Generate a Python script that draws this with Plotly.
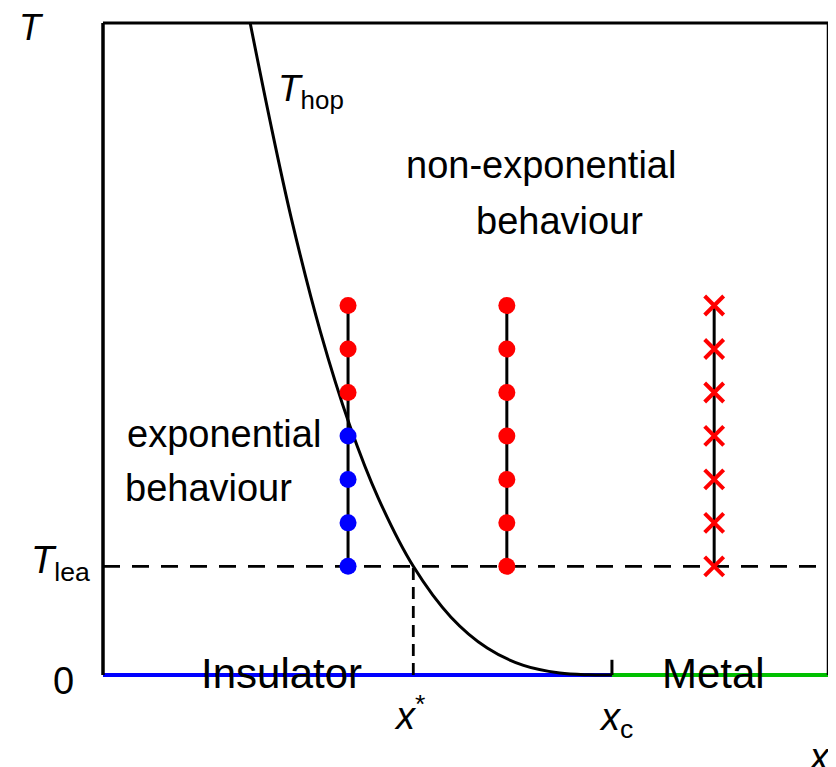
import plotly.graph_objects as go

# ---------------- data ----------------
# T_hop curve, x in arbitrary units 0..10, T in 0..15
hop_x = [2.03, 2.3, 2.6, 3.0, 3.4, 3.8, 4.28, 4.8, 5.3, 5.8, 6.3, 6.7, 7.02]
hop_T = [15.0, 12.78, 10.49, 7.89, 5.76, 4.06, 2.50, 1.33, 0.62, 0.22, 0.045, 0.004, 0.0]

T_lea = 2.5
x_star = 4.28
x_c = 7.02
x_max = 10.0
T_max = 15.0

levels = [2.5, 3.5, 4.5, 5.5, 6.5, 7.5, 8.5]
col1_x = 3.38
col1_colors = ["blue", "blue", "blue", "blue", "red", "red", "red"]
col2_x = 5.57
col3_x = 8.43

# ---------------- layout geometry (window pixels) ----------------
WIN_W, WIN_H = 836, 767
OFF = 8                      # page body margin
FX0, FX1 = 103, 828          # frame left/right
FY0, FY1 = 23, 675           # frame top/bottom
PX0, PX1 = 93, 833           # plot area left/right
PY0, PY1 = 13, 685           # plot area top/bottom

sx = (FX1 - FX0) / x_max
sy = (FY1 - FY0) / T_max


def px2x(px):
    return (px - FX0) / sx


def px2y(py):
    return (FY1 - py) / sy


def paper_x(px):
    return (px - PX0) / (PX1 - PX0)


def paper_y(py):
    return (PY1 - py) / (PY1 - PY0)


FONT = "Arial, Liberation Sans, sans-serif"
fig = go.Figure()

# bottom axis coloured line (insulator / metal)
fig.add_trace(go.Scatter(x=[0, x_c], y=[0, 0], mode="lines",
                         line=dict(color="#0000ff", width=4), hoverinfo="skip"))
fig.add_trace(go.Scatter(x=[x_c, x_max], y=[0, 0], mode="lines",
                         line=dict(color="#00c000", width=4), hoverinfo="skip"))

# dashed T_lea line and x* drop line
fig.add_trace(go.Scatter(x=[0, x_max], y=[T_lea, T_lea], mode="lines",
                         line=dict(color="black", width=2.8, dash="17px,12px"),
                         hoverinfo="skip"))
fig.add_trace(go.Scatter(x=[x_star, x_star], y=[0, T_lea], mode="lines",
                         line=dict(color="black", width=2.8, dash="12px,7px"),
                         hoverinfo="skip"))

# T_hop curve
fig.add_trace(go.Scatter(x=hop_x, y=hop_T, mode="lines", line_shape="spline",
                         line=dict(color="black", width=3), hoverinfo="skip"))

# x_c tick
fig.add_trace(go.Scatter(x=[x_c, x_c], y=[0, 0.35], mode="lines",
                         line=dict(color="black", width=3), hoverinfo="skip"))

# vertical measurement columns
for cx in [col1_x, col2_x, col3_x]:
    fig.add_trace(go.Scatter(x=[cx, cx], y=[levels[0], levels[-1]], mode="lines",
                             line=dict(color="black", width=3), hoverinfo="skip"))

fig.add_trace(go.Scatter(x=[col1_x] * len(levels), y=levels, mode="markers",
                         marker=dict(color=col1_colors, size=17, line=dict(width=0))))
fig.add_trace(go.Scatter(x=[col2_x] * len(levels), y=levels, mode="markers",
                         marker=dict(color="red", size=17, line=dict(width=0))))
fig.add_trace(go.Scatter(x=[col3_x] * len(levels), y=levels, mode="markers",
                         marker=dict(symbol="x-thin", size=19,
                                     line=dict(color="red", width=4))))

# frame: left, top, right lines
shapes = [
    dict(type="line", xref="x", yref="y", x0=0, x1=0, y0=0, y1=T_max,
         line=dict(color="black", width=3.5)),
    dict(type="line", xref="x", yref="y", x0=0, x1=x_max, y0=T_max, y1=T_max,
         line=dict(color="black", width=3)),
    dict(type="line", xref="x", yref="y", x0=x_max, x1=x_max, y0=0, y1=T_max,
         line=dict(color="black", width=2.5)),
]


def ann(text, px, py, size=38, xanchor="center"):
    return dict(text=text, x=paper_x(px), y=paper_y(py), xref="paper", yref="paper",
                showarrow=False, xanchor=xanchor, yanchor="middle",
                font=dict(family=FONT, size=size, color="black"))


annotations = [
    ann("<i>T</i>", 31, 27, 36),
    ann("<i>T</i><sub>hop</sub>", 276, 91, 37, "left"),
    ann("non-exponential", 541, 165, 38),
    ann("behaviour", 559, 221, 38),
    ann("exponential", 224, 434, 38),
    ann("behaviour", 208, 488, 38),
    ann("Insulator", 281, 673, 42),
    ann("Metal", 713, 673, 42),
    ann("0", 63, 681, 38),
    ann("<i>T</i><sub>lea</sub>", 92, 563, 38, "right"),
    ann("<i>x</i><sup>*</sup>", 392, 713, 38, "left"),
    ann("<i>x</i><sub>c</sub>", 597, 720, 38, "left"),
    ann("<i>x</i>", 806, 757, 38, "left"),
]

fig.update_layout(
    width=WIN_W - OFF, height=WIN_H - OFF,
    margin=dict(l=PX0 - OFF, r=WIN_W - PX1, t=PY0 - OFF, b=WIN_H - PY1, pad=0),
    paper_bgcolor="white", plot_bgcolor="white",
    showlegend=False,
    xaxis=dict(range=[px2x(PX0), px2x(PX1)], visible=False, fixedrange=True),
    yaxis=dict(range=[px2y(PY1), px2y(PY0)], visible=False, fixedrange=True),
    shapes=shapes,
    annotations=annotations,
)

fig.write_html("out.html")
